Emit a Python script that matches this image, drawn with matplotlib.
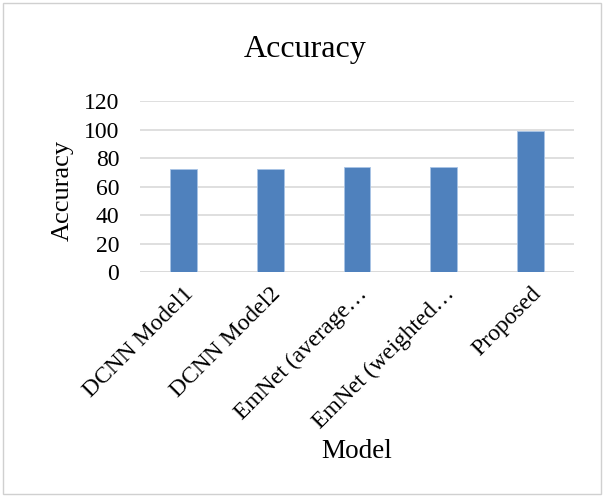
import matplotlib
matplotlib.use("Agg")
import matplotlib.pyplot as plt
from matplotlib.patches import Rectangle

models = ["DCNN Model1", "DCNN Model2", "EmNet (average…", "EmNet (weighted…", "Proposed"]
accuracy = [72, 72, 74, 74, 99]
yticks = [0, 20, 40, 60, 80, 100, 120]

plt.rcParams["font.family"] = ["Liberation Serif", "DejaVu Serif"]

fig = plt.figure(figsize=(6.04, 4.97), dpi=100)
ax = fig.add_axes([140 / 604, 1 - 272 / 497, 434 / 604, 171 / 497])

x = range(len(models))
ax.bar(x, accuracy, width=0.31, color="#4f81bd", edgecolor="#a9c4e6", linewidth=0.6, zorder=3)

ax.set_ylim(0, 120)
ax.set_xlim(-0.5, len(models) - 0.5)
ax.set_yticks(yticks)
ax.set_yticklabels([str(t) for t in yticks], fontsize=17)
ax.set_xticks(list(x))
ax.set_xticklabels(models, rotation=45, ha="right", rotation_mode="anchor", fontsize=17)
ax.tick_params(axis="y", length=0, pad=15)
ax.tick_params(axis="x", length=0, pad=8)
ax.yaxis.grid(True, color="#d9d9d9", linewidth=1.2, zorder=0)
for s in ax.spines.values():
    s.set_visible(False)
ax.axhline(0, color="#d9d9d9", linewidth=1.2, zorder=2)

fig.text(63 / 604, 1 - 190 / 497, "Accuracy", fontsize=19, rotation=90, ha="center", va="center")
fig.text(357 / 604, 1 - 452 / 497, "Model", fontsize=19.5, ha="center", va="center")
fig.text(305 / 604, 1 - 49 / 497, "Accuracy", fontsize=23, ha="center", va="center")

fig.patches.append(Rectangle((3 / 604, 3 / 497), 598 / 604, 491 / 497, transform=fig.transFigure,
                             fill=False, edgecolor="#d0d0d0", linewidth=1))

fig.savefig("out.png", dpi=100, facecolor="white")
